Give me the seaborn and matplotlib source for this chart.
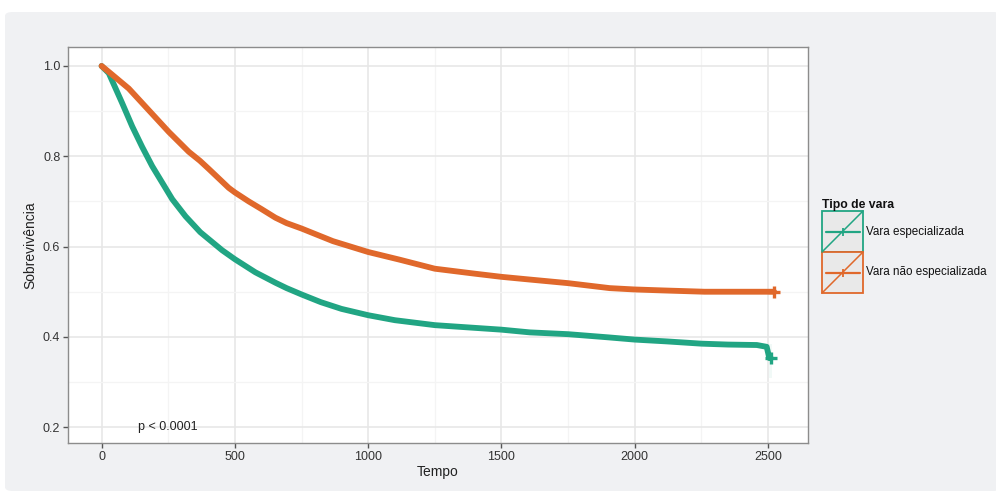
import matplotlib
matplotlib.use("Agg")

import numpy as np
import pandas as pd
import matplotlib.pyplot as plt
import seaborn as sns
from matplotlib.patches import FancyBboxPatch, Rectangle
from matplotlib.ticker import MultipleLocator

# curvas de Kaplan-Meier
tempo_esp = [0, 27, 77, 115, 152, 190, 227, 265, 315, 370, 452, 500, 577, 652, 694,
             750, 822, 900, 1000, 1100, 1250, 1400, 1500, 1606, 1750, 1900, 2000, 2120,
             2250, 2350, 2458, 2495, 2505, 2510]
surv_esp = [1.0, 0.984, 0.918, 0.866, 0.821, 0.778, 0.742, 0.705, 0.667, 0.632, 0.592,
            0.572, 0.543, 0.52, 0.508, 0.494, 0.477, 0.462, 0.448, 0.437, 0.426, 0.42,
            0.416, 0.41, 0.406, 0.399, 0.394, 0.39, 0.385, 0.383, 0.382, 0.378, 0.353,
            0.353]

tempo_nesp = [0, 27, 102, 177, 252, 327, 369, 402, 477, 500, 552, 600, 652, 694, 750,
              868, 1000, 1118, 1250, 1400, 1500, 1606, 1750, 1906, 2000, 2100, 2262, 2523]
surv_nesp = [1.0, 0.987, 0.95, 0.902, 0.854, 0.81, 0.79, 0.772, 0.73, 0.72, 0.70,
             0.683, 0.664, 0.652, 0.640, 0.612, 0.588, 0.571, 0.551, 0.54, 0.533, 0.527,
             0.519, 0.508, 0.505, 0.503, 0.50, 0.50]

# intervalo de confiança visível no fim da curva verde
ic_tempo = [2503, 2516]
ic_inf = [0.31, 0.31]
ic_sup = [0.385, 0.385]

grupos = ["Vara especializada", "Vara não especializada"]
cores = {"Vara especializada": "#21a583", "Vara não especializada": "#e0682b"}

df = pd.concat([
    pd.DataFrame({"Tempo": tempo_esp, "Sobrevivencia": surv_esp, "grupo": grupos[0]}),
    pd.DataFrame({"Tempo": tempo_nesp, "Sobrevivencia": surv_nesp, "grupo": grupos[1]}),
])

sns.set_style("white")
plt.rcParams["font.family"] = ["Liberation Sans", "DejaVu Sans"]

W, H = 996, 491
fig = plt.figure(figsize=(W / 100, H / 100), dpi=100)
fig.patch.set_facecolor("white")

# fundo cinzento arredondado
fundo = FancyBboxPatch((5 / W, 0), 1, 1 - 12 / H, boxstyle="round,pad=0,rounding_size=0.008",
                       transform=fig.transFigure, facecolor="#f0f1f3", edgecolor="none", zorder=-10)
fig.patches.append(fundo)

ax = fig.add_axes([68 / W, 1 - 443 / H, 740 / W, 396 / H])
ax.set_facecolor("white")

ax.fill_between(ic_tempo, ic_inf, ic_sup, color=cores[grupos[0]], alpha=0.06, lw=0)

for g in grupos:
    sns.lineplot(data=df[df["grupo"] == g], x="Tempo", y="Sobrevivencia",
                 color=cores[g], estimator=None, sort=False, legend=False, ax=ax,
                 linewidth=4.2, solid_joinstyle="round", solid_capstyle="round",
                 marker="+", markevery=[-1], markersize=8, markeredgewidth=2.4,
                 markeredgecolor=cores[g])

ax.set_xlim(-126, 2650)
ax.set_ylim(0.165, 1.042)
ax.xaxis.set_major_locator(MultipleLocator(500))
ax.xaxis.set_minor_locator(MultipleLocator(250))
ax.yaxis.set_minor_locator(MultipleLocator(0.1))
ax.set_yticks([0.2, 0.4, 0.6, 0.8, 1.0])
ax.set_yticklabels(["0.2", "0.4", "0.6", "0.8", "1.0"])

ax.grid(which="major", color="#e6e6e6", lw=1.1, zorder=0)
ax.grid(which="minor", color="#f4f4f4", lw=0.9, zorder=0)
ax.set_axisbelow(True)
for s in ax.spines.values():
    s.set_color("#8c8c8c")
    s.set_linewidth(1.0)
ax.tick_params(which="major", length=3.5, width=1, color="#555555", labelsize=9,
               labelcolor="#333333", pad=2, direction="out", bottom=True, left=True)
ax.tick_params(which="minor", length=0)

ax.set_xlabel("Tempo", fontsize=10, color="#222222", labelpad=2)
ax.set_ylabel("Sobrevivência", fontsize=10, color="#222222", labelpad=4)

ax.text(135, 0.2, "p < 0.0001", fontsize=9, color="#222222", va="center", ha="left")

# legenda desenhada à mão em coordenadas de pixel
leg = fig.add_axes([0, 0, 1, 1])
leg.set_xlim(0, W)
leg.set_ylim(H, 0)
leg.axis("off")
leg.text(822, 205, "Tipo de vara", fontsize=8.8, fontweight="bold", va="center", ha="left", color="#111111")
for i, g in enumerate(grupos):
    y0 = 211 + i * 41
    c = cores[g]
    leg.add_patch(Rectangle((822, y0), 41, 41, facecolor="#e9e9e9", edgecolor=c, lw=1.3))
    leg.plot([822, 863], [y0 + 41, y0], color=c, lw=1.1)
    leg.plot([826, 860], [y0 + 20.5, y0 + 20.5], color=c, lw=1.6)
    leg.plot([843], [y0 + 20.5], marker="+", color=c, markersize=6, mew=1.3)
    leg.text(866, y0 + 20.5, g, fontsize=8.4, va="center", ha="left", color="#111111")

fig.savefig("out.png", dpi=100)
